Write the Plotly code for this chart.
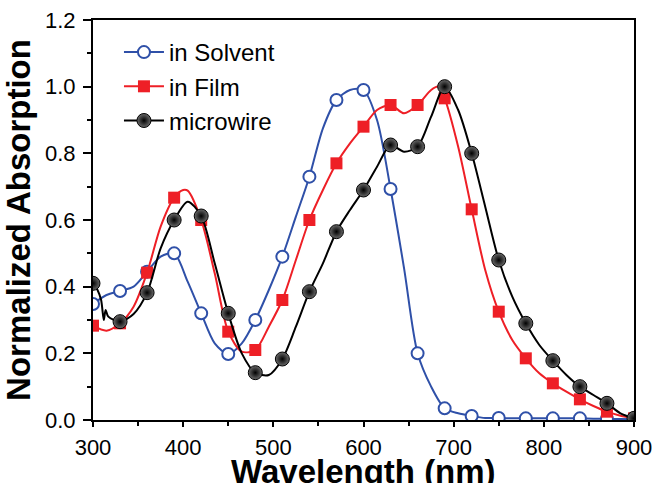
import plotly.graph_objects as go

# ---- data ----
solvent_wl = [300, 315, 330, 345, 360, 375, 390, 405, 420, 435, 450, 465, 480, 495, 510, 525,
              540, 555, 570, 585, 600, 615, 630, 645, 660, 675, 690, 705, 720, 735, 750, 765,
              780, 795, 810, 825, 840, 855, 870, 885, 900]
solvent_abs = [0.348, 0.375, 0.387, 0.400, 0.445, 0.490, 0.500, 0.415, 0.320, 0.230, 0.198, 0.230,
               0.300, 0.390, 0.490, 0.610, 0.730, 0.875, 0.960, 0.990, 0.990, 0.900, 0.693, 0.455,
               0.200, 0.100, 0.035, 0.020, 0.012, 0.006, 0.006, 0.005, 0.005, 0.005, 0.005, 0.005,
               0.005, 0.004, 0.004, 0.003, 0.002]

film_wl = [300, 315, 330, 345, 360, 375, 390, 400, 405, 420, 435, 450, 465, 480, 495, 510, 525,
           540, 555, 570, 585, 600, 615, 630, 645, 660, 675, 683, 690, 705, 720, 735, 750, 765,
           780, 795, 810, 825, 840, 855, 870, 885, 900]
film_abs = [0.283, 0.268, 0.290, 0.340, 0.442, 0.580, 0.667, 0.690, 0.688, 0.600, 0.440, 0.265,
            0.205, 0.210, 0.280, 0.360, 0.480, 0.600, 0.690, 0.770, 0.830, 0.880, 0.930, 0.945,
            0.920, 0.945, 0.990, 1.000, 0.965, 0.820, 0.632, 0.450, 0.325, 0.240, 0.185, 0.140,
            0.110, 0.085, 0.062, 0.042, 0.025, 0.013, 0.005]

wire_wl = [300, 305, 309, 312, 314, 317, 330, 345, 360, 375, 390, 405, 420, 435, 450, 465, 480,
           495, 510, 525, 540, 555, 570, 585, 600, 615, 630, 645, 660, 675, 690, 705, 720, 735,
           750, 765, 780, 795, 810, 825, 840, 855, 870, 885, 900]
wire_abs = [0.410, 0.390, 0.360, 0.300, 0.330, 0.310, 0.295, 0.318, 0.382, 0.515, 0.600, 0.655,
            0.612, 0.470, 0.320, 0.200, 0.142, 0.135, 0.183, 0.280, 0.385, 0.470, 0.565, 0.630,
            0.690, 0.760, 0.825, 0.805, 0.820, 0.910, 1.000, 0.930, 0.800, 0.640, 0.480, 0.370,
            0.290, 0.225, 0.178, 0.135, 0.100, 0.075, 0.050, 0.020, 0.005]

marker_wl = [300, 330, 360, 390, 420, 450, 480, 510, 540, 570, 600, 630, 660, 690, 720, 750,
             780, 810, 840, 870, 900]

x_ticks = [300, 400, 500, 600, 700, 800, 900]
y_ticks = [0.0, 0.2, 0.4, 0.6, 0.8, 1.0, 1.2]
y_tick_labels = ["0.0", "0.2", "0.4", "0.6", "0.8", "1.0", "1.2"]

x_title = "Wavelength (nm)"
y_title = "Normalized Absorption"
series_names = ["in Solvent", "in Film", "microwire"]

BLUE = "#2F50A8"
RED = "#EE1F26"
BLACK = "#000000"
FONT = "Liberation Sans, Arial, sans-serif"


def subset(wl, vals):
    d = dict(zip(wl, vals))
    return [w for w in marker_wl if w in d], [d[w] for w in marker_wl if w in d]


styles = [
    dict(color=BLUE, marker=dict(symbol="circle", size=12, color="white",
                                 line=dict(color=BLUE, width=2))),
    dict(color=RED, marker=dict(symbol="square", size=12, color=RED,
                                line=dict(color=RED, width=0))),
    dict(color=BLACK, marker=dict(symbol="circle", size=14, color="#6a6a6a",
                                  gradient=dict(type="radial", color="#000000"),
                                  line=dict(color="#000000", width=1))),
]

data = [(solvent_wl, solvent_abs), (film_wl, film_abs), (wire_wl, wire_abs)]

fig = go.Figure()
for name, (wl, vals), st in zip(series_names, data, styles):
    fig.add_trace(go.Scatter(x=wl, y=vals, mode="lines", showlegend=False,
                             line=dict(color=st["color"], width=2, shape="spline", smoothing=0.8),
                             hoverinfo="skip"))
    mx, my = subset(wl, vals)
    fig.add_trace(go.Scatter(x=mx, y=my, mode="markers", showlegend=False,
                             marker=st["marker"]))
    fig.add_trace(go.Scatter(x=[None], y=[None], mode="lines+markers", name=name,
                             line=dict(color=st["color"], width=2),
                             marker=st["marker"]))

axis_common = dict(showline=True, linecolor="black", linewidth=2, mirror=True,
                   ticks="outside", tickwidth=2, tickcolor="black",
                   showgrid=False, zeroline=False, automargin=False,
                   ticklabeloverflow="allow",
                   tickfont=dict(family=FONT, size=22, color="black"))

fig.update_layout(
    width=656, height=483,
    margin=dict(l=93, r=22, t=20, b=63),
    paper_bgcolor="white", plot_bgcolor="white",
    font=dict(family=FONT, color="black"),
    xaxis=dict(range=[300, 900], tickmode="array", tickvals=x_ticks, ticklen=5,
               ticklabelstandoff=2,
               minor=dict(ticks="outside", dtick=50, tick0=300, ticklen=4, tickwidth=2,
                          tickcolor="black"),
               **axis_common),
    yaxis=dict(range=[0, 1.2], tickmode="array", tickvals=y_ticks, ticktext=y_tick_labels,
               ticklen=8, ticklabelstandoff=3,
               minor=dict(ticks="outside", dtick=0.1, tick0=0, ticklen=4, tickwidth=2,
                          tickcolor="black"),
               title=dict(text=y_title, standoff=11,
                          font=dict(family=FONT, size=33, color="black", weight="bold")),
               **axis_common),
    legend=dict(x=0.048, y=0.975, xanchor="left", yanchor="top",
                bgcolor="rgba(0,0,0,0)", borderwidth=0,
                font=dict(family=FONT, size=24, color="black"),
                itemwidth=40, tracegroupgap=0),
    annotations=[dict(text=x_title, xref="paper", yref="paper", x=0.5, y=-0.078,
                      xanchor="center", yanchor="top", showarrow=False,
                      font=dict(family=FONT, size=33, color="black", weight="bold"))],
)

fig.write_html("out.html", config={"displayModeBar": False},
               post_script="document.body.style.margin='0';document.body.style.overflow='hidden';")
